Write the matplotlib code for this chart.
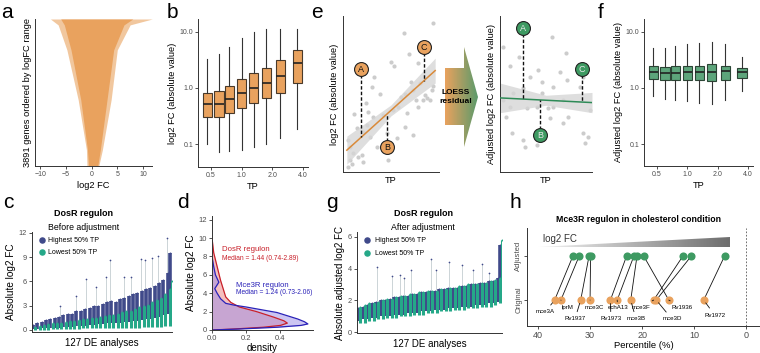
import numpy as np
import matplotlib
matplotlib.use("Agg")
import matplotlib.pyplot as plt
from matplotlib.colors import LinearSegmentedColormap
from matplotlib.patches import Polygon
from matplotlib.ticker import NullLocator

plt.rcParams['font.family'] = ['Liberation Sans', 'DejaVu Sans']
plt.rcParams['mathtext.fontset'] = 'custom'
plt.rcParams['mathtext.it'] = 'Liberation Sans:italic'
plt.rcParams['mathtext.rm'] = 'Liberation Sans'

ORANGE = '#E9A25E'
GREEN = '#3E9A62'
BOXGREEN = '#5DA57B'
NAVY = '#404A8A'
TEAL = '#25A888'
TICK = '#4D4D4D'

# ---- a: envelope of per-gene log2 FC, rank fraction counted from bottom
a_n_genes = 3891
a_rank_frac = [0.0, 0.11, 0.45, 0.79, 0.96, 1.0]
a_core_lo = [-0.6, -0.8, -2.1, -4.0, -5.3, -6.0]
a_core_hi = [1.2, 1.7, 3.0, 4.3, 6.3, 8.0]
a_edge_lo = [-0.9, -1.0, -2.6, -4.8, -6.5, -8.0]
a_edge_hi = [1.4, 2.1, 3.8, 5.0, 7.5, 11.8]

# ---- b / f: boxplots by TP bin
tp_bins = [0.46, 0.6, 0.76, 1.0, 1.31, 1.75, 2.39, 3.5]
b_low = [0.10, 0.072, 0.075, 0.08, 0.088, 0.10, 0.13, 0.185]
b_q1 = [0.30, 0.30, 0.36, 0.44, 0.54, 0.66, 0.81, 1.23]
b_med = [0.52, 0.52, 0.64, 0.81, 1.0, 1.23, 1.65, 2.8]
b_q3 = [0.81, 0.88, 1.09, 1.45, 1.85, 2.3, 3.2, 4.8]
b_high = [3.3, 4.0, 5.4, 7.8, 10.0, 11.3, 11.3, 11.3]

f_low = [0.72, 0.64, 0.61, 0.59, 0.54, 0.52, 0.61, 0.88]
f_q1 = [1.45, 1.39, 1.39, 1.39, 1.39, 1.33, 1.39, 1.5]
f_med = [1.93, 1.85, 1.85, 1.93, 1.93, 1.93, 2.0, 1.93]
f_q3 = [2.47, 2.37, 2.47, 2.47, 2.5, 2.68, 2.47, 2.27]
f_high = [5.2, 5.2, 5.6, 6.1, 6.4, 6.6, 6.1, 3.6]

# ---- e: schematic scatter before / after LOESS adjustment
e_x = [9.41, 6.35, 5.0, 5.35, 6.875, 7.85, 3.23, 2.99, 3.85, 7.05, 8.02, 6.04, 6.46,
       7.33, 7.57, 8.54, 8.72, 9.06, 9.23, 9.41, 1.15, 2.40, 2.64, 3.16, 4.20, 5.24,
       5.76, 6.63, 7.33, 5.59, 2.47, 2.12, 1.42, 0.56, 0.73, 1.08, 1.6, 1.94, 0.73,
       0.56, 0.90, 2.12, 4.72, 3.51, 2.81, 8.37, 7.85, 6.46, 4.55]
e_y = [9.57, 8.93, 7.07, 6.82, 7.56, 6.97, 6.07, 5.43, 5.0, 5.79, 5.68, 4.83, 4.98,
       5.26, 4.62, 4.94, 4.72, 4.62, 5.26, 5.51, 3.70, 4.40, 3.87, 3.55, 3.65, 3.97,
       4.19, 3.76, 2.37, 2.16, 3.01, 2.58, 2.80, 2.05, 1.62, 1.2, 0.98, 1.09, 0.77,
       0.34, 0.51, 0.66, 0.77, 1.62, 2.26, 4.62, 4.19, 2.90, 2.48]
e_fit_x = [0.4, 5.0, 9.6]
e_fit_y = [1.4, 3.95, 6.5]
e_fit_se = [0.9, 0.35, 0.8]
e_mark = ['A', 'B', 'C']
e_mark_x = [1.9, 4.6, 8.4]
e_mark_y = [6.6, 1.6, 8.0]

ea_x = [5.62, 7.17, 0.36, 1.09, 2.07, 4.17, 3.26, 4.53, 5.80, 2.54, 1.45, 0.65, 1.09,
        2.9, 3.99, 5.25, 5.8, 5.43, 6.88, 7.43, 8.7, 9.06, 6.88, 9.78, 9.6, 9.06, 2.54,
        2.72, 1.27, 3.99, 9.24, 7.25, 0.36, 6.52, 4.53]
ea_y = [8.63, 7.65, 8.03, 6.79, 7.39, 6.54, 6.11, 5.79, 5.47, 5.37, 5.04, 3.55, 4.19,
        4.08, 4.19, 4.08, 4.19, 3.44, 3.12, 3.55, 5.47, 6.11, 4.62, 3.97, 2.26, 2.48,
        2.05, 1.62, 2.48, 1.73, 1.84, 5.9, 4.62, 6.43, 5.04]
ea_fit_x = [0.0, 5.0, 10.0]
ea_fit_y = [4.75, 4.6, 4.45]
ea_fit_se = [0.95, 0.32, 0.65]
ea_mark_x = [2.5, 4.35, 8.91]
ea_mark_y = [9.23, 2.37, 6.6]

# ---- c / g: DosR regulon log2 FC across 127 DE analyses (sampled every 4th)
cg_pos = [1, 5, 9, 13, 17, 21, 25, 29, 33, 37, 41, 45, 49, 53, 57, 61, 65, 69, 73, 77,
          81, 85, 89, 93, 97, 101, 105, 109, 113, 117, 121, 125, 127]
c_hi_top = [0.6, 0.8, 1.0, 1.2, 1.3, 1.5, 1.6, 1.8, 2.0, 2.0, 2.3, 2.4, 2.6, 2.7, 2.9, 3.0,
            3.2, 3.4, 3.6, 3.5, 3.8, 4.0, 4.2, 4.4, 4.6, 4.8, 5.0, 5.2, 5.4, 5.8, 6.2, 7.0, 9.5]
c_hi_bot = [0.1, 0.15, 0.2, 0.2, 0.25, 0.3, 0.3, 0.35, 0.4, 0.4, 0.5, 0.5, 0.55, 0.6, 0.6, 0.7,
            0.7, 0.8, 0.8, 0.9, 0.9, 1.0, 1.0, 1.1, 1.1, 1.2, 1.3, 1.4, 1.5, 1.6, 1.8, 2.0, 2.5]
c_lo_top = [0.4, 0.5, 0.6, 0.7, 0.8, 0.8, 0.9, 1.0, 1.1, 1.1, 1.2, 1.3, 1.4, 1.5, 1.5, 1.6,
            1.7, 1.8, 1.9, 2.0, 2.2, 2.3, 2.4, 2.6, 2.8, 3.0, 3.1, 3.4, 3.7, 4.0, 4.5, 5.0, 6.0]
c_lo_bot = [0.0, 0.0, 0.05, 0.05, 0.1, 0.1, 0.1, 0.1, 0.15, 0.15, 0.15, 0.2, 0.2, 0.2, 0.2, 0.2,
            0.25, 0.25, 0.25, 0.3, 0.3, 0.3, 0.3, 0.3, 0.3, 0.35, 0.35, 0.4, 0.4, 0.4, 0.5, 0.5, 0.8]
c_spike_pos = [26, 41, 50, 59, 68, 72, 85, 91, 100, 104, 111, 116, 124]
c_spike_val = [2.9, 4.2, 6.3, 5.3, 6.6, 8.7, 6.6, 6.6, 8.8, 8.6, 8.9, 9.1, 11.4]

g_hi_top = [1.5, 1.6, 1.7, 1.8, 1.9, 2.0, 2.0, 2.1, 2.2, 2.2, 2.3, 2.3, 2.4, 2.4, 2.5, 2.5,
            2.6, 2.6, 2.7, 2.7, 2.8, 2.8, 2.8, 2.9, 2.9, 3.0, 3.0, 3.1, 3.1, 3.2, 3.2, 3.4, 5.5]
g_hi_bot = [0.7, 0.8, 0.8, 0.9, 0.9, 1.0, 1.0, 1.0, 1.1, 1.1, 1.1, 1.2, 1.2, 1.2, 1.3, 1.3,
            1.3, 1.4, 1.4, 1.4, 1.5, 1.5, 1.5, 1.6, 1.6, 1.6, 1.7, 1.7, 1.7, 1.8, 1.8, 1.9, 2.5]
g_lo_top = [1.6, 1.7, 1.8, 1.8, 1.9, 2.0, 2.1, 2.1, 2.2, 2.3, 2.3, 2.4, 2.4, 2.5, 2.5, 2.6,
            2.6, 2.6, 2.7, 2.7, 2.8, 2.8, 2.9, 2.9, 3.0, 3.0, 3.0, 3.1, 3.1, 3.2, 3.3, 3.4, 5.8]
g_lo_bot = [0.6, 0.6, 0.7, 0.7, 0.8, 0.8, 0.9, 0.9, 0.9, 1.0, 1.0, 1.0, 1.1, 1.1, 1.1, 1.2,
            1.2, 1.2, 1.3, 1.3, 1.3, 1.4, 1.4, 1.4, 1.5, 1.5, 1.5, 1.6, 1.6, 1.6, 1.7, 1.8, 2.4]
g_spike_pos = [18, 31, 38, 42, 48, 66, 70, 82, 93, 103, 111, 117]
g_spike_val = [4.1, 3.5, 3.6, 3.4, 3.9, 4.6, 3.9, 4.4, 4.2, 3.9, 4.3, 3.7]

# ---- d: density of absolute log2 FC
dosr_y = [0, 0.1, 0.3, 0.5, 0.75, 1.0, 1.4, 2.0, 2.5, 3.0, 3.6, 4.5, 5.4, 6.9, 8.4, 10.0]
dosr_d = [0, 0.12, 0.3, 0.4, 0.44, 0.42, 0.36, 0.26, 0.16, 0.11, 0.08, 0.065, 0.05, 0.03, 0.01, 0.0]
mce_y = [0, 0.1, 0.3, 0.5, 0.66, 0.9, 1.2, 1.9, 2.5, 2.7, 2.9, 3.4, 4.0, 4.5, 5.2, 6.0, 6.9, 8.0]
mce_d = [0, 0.15, 0.38, 0.52, 0.56, 0.54, 0.5, 0.38, 0.2, 0.13, 0.08, 0.05, 0.03, 0.016, 0.04,
         0.02, 0.01, 0.0]

# ---- h: Mce3R regulon percentiles
h_genes = ['mce3A', 'lprM', 'Rv1937', 'mce3C', 'Rv1973', 'echA13', 'mce3B', 'mce3F',
           'mce3D', 'Rv1936', 'Rv1972']
h_orig = [36.8, 35.6, 31.8, 30.0, 26.1, 24.8, 22.2, 17.8, 17.3, 14.9, 8.2]
h_adj = [33.3, 32.1, 30.2, 29.9, 23.0, 21.6, 21.0, 12.2, 10.6, 19.7, 4.2]
h_lab_x = [38.6, 34.4, 32.9, 29.1, 26.0, 24.7, 21.2, 20.3, 14.3, 12.4, 6.1]
h_lab_y = [-0.27, -0.16, -0.43, -0.16, -0.43, -0.16, -0.43, -0.16, -0.43, -0.16, -0.34]

W, H = 760, 353
fig = plt.figure(figsize=(7.6, 3.53), dpi=100)


def px_axes(l, t, r, b):
    return fig.add_axes([l / W, 1 - b / H, (r - l) / W, (b - t) / H])


def classic(ax, fs=5):
    for s in ['top', 'right']:
        ax.spines[s].set_visible(False)
    for s in ['left', 'bottom']:
        ax.spines[s].set_linewidth(0.7)
        ax.spines[s].set_color('#333333')
    ax.tick_params(labelsize=fs, length=2, width=0.6, color='#333333',
                   labelcolor=TICK, pad=1.5)


# overlay for letters and the arrow
ov = fig.add_axes([0, 0, 1, 1], zorder=-1)
ov.set_xlim(0, W)
ov.set_ylim(H, 0)
ov.axis('off')
for lab, x, y in [('a', 7, 12), ('b', 172, 12), ('e', 317, 12), ('f', 601, 12),
                  ('c', 8, 202), ('d', 183, 202), ('g', 332, 202), ('h', 515, 203)]:
    ov.text(x, y, lab, fontsize=15, ha='center', va='center')

# ---------------- a
ax = px_axes(35, 19, 152, 166)
classic(ax, 5)
ya = np.array(a_rank_frac) * a_n_genes
ax.fill_betweenx(ya, a_edge_lo, a_edge_hi, color=ORANGE, alpha=0.6, lw=0)
ax.fill_betweenx(ya, a_core_lo, a_core_hi, color=ORANGE, lw=0)
ax.set_xlim(-11, 11.75)
ax.set_ylim(0, a_n_genes)
ax.set_yticks([])
ax.set_xticks([-10, -5, 0, 5, 10])
ax.set_xlabel('log2 FC', fontsize=6.7, labelpad=2)
ax.set_ylabel('3891 genes ordered by logFC range', fontsize=6.7, labelpad=2)


def boxes(ax, low, q1, med, q3, high, face, edge):
    stats = [dict(whislo=a, q1=b, med=c, q3=d, whishi=e, fliers=[])
             for a, b, c, d, e in zip(low, q1, med, q3, high)]
    ax.bxp(stats, positions=np.log2(tp_bins), widths=0.3, patch_artist=True,
           showcaps=False, manage_ticks=False,
           boxprops=dict(facecolor=face, edgecolor=edge, lw=0.8),
           medianprops=dict(color='#222222', lw=1.2),
           whiskerprops=dict(color='#333333', lw=0.8))
    ax.set_yscale('log')
    ax.yaxis.set_minor_locator(NullLocator())
    ax.set_yticks([0.1, 1.0, 10.0])
    ax.set_yticklabels(['0.1', '1.0', '10.0'])
    ax.set_xticks(np.log2([0.5, 1, 2, 4]))
    ax.set_xticklabels(['0.5', '1.0', '2.0', '4.0'])
    ax.set_xlabel('TP', fontsize=6.7, labelpad=2)


# ---------------- b
ax = px_axes(198, 19, 308, 167)
classic(ax, 5)
boxes(ax, b_low, b_q1, b_med, b_q3, b_high, ORANGE, '#4a3a2a')
ax.set_xlim(-1.42, 2.16)
ax.set_ylim(0.039, 17)
ax.set_ylabel('log2 FC (absolute value)', fontsize=6.7, labelpad=2)

# ---------------- f
ax = px_axes(644, 19, 753, 166)
classic(ax, 5)
boxes(ax, f_low, f_q1, f_med, f_q3, f_high, BOXGREEN, '#2b4535')
ax.set_xlim(-1.43, 2.17)
ax.set_ylim(0.0405, 17)
ax.set_ylabel('Adjusted log2 FC (absolute value)', fontsize=6.7, labelpad=2)


# ---------------- e
def schematic(ax, px, py, fx, fy, se, line_col, mx, my, mcol):
    classic(ax, 5)
    ax.set_xticks([])
    ax.set_yticks([])
    ax.scatter(px, py, s=9, color='#CCCCCC', lw=0, zorder=1)
    fy = np.array(fy)
    se = np.array(se)
    ax.fill_between(fx, fy - se, fy + se, color='#D6D6D6', alpha=0.8, lw=0, zorder=2)
    ax.plot(fx, fy, color=line_col, lw=1.1, zorder=3)
    for lab, x, y in zip(e_mark, mx, my):
        yl = np.interp(x, fx, fy)
        ax.plot([x, x], [y, yl], color='#111111', lw=1.0, ls=(0, (2.5, 1.5)), zorder=4)
        ax.scatter([x], [y], s=100, color=mcol, edgecolor='#222222', lw=0.8, zorder=5)
        ax.text(x, y, lab, fontsize=6.5, ha='center', va='center', zorder=6,
                color='#111111' if mcol == ORANGE else '#e8e8e8')
    ax.set_xlim(0, 10)
    ax.set_ylim(0, 10)
    ax.set_xlabel('TP', fontsize=6.7, labelpad=3)


ax = px_axes(343, 16, 439, 172)
schematic(ax, e_x, e_y, e_fit_x, e_fit_y, e_fit_se, '#D98A3A', e_mark_x, e_mark_y, ORANGE)
ax.set_ylabel('log2 FC (absolute value)', fontsize=6.7, labelpad=3)

ax = px_axes(500, 16, 592, 172)
schematic(ax, ea_x, ea_y, ea_fit_x, ea_fit_y, ea_fit_se, '#2E8B57', ea_mark_x, ea_mark_y, GREEN)
ax.set_ylabel('Adjusted log2 FC (absolute value)', fontsize=6.7, labelpad=3)

# gradient arrow
arrow = Polygon([(445, 68), (464, 68), (464, 47), (478, 97), (464, 147), (464, 125),
                 (445, 125)], closed=True, transform=ov.transData, facecolor='none', lw=0)
ov.add_patch(arrow)
grad_cmap = LinearSegmentedColormap.from_list('og', [ORANGE, '#5C9A6B'])
im = ov.imshow(np.linspace(0, 1, 64).reshape(1, -1), cmap=grad_cmap, aspect='auto',
               extent=(445, 478, 147, 47), zorder=1)
im.set_clip_path(arrow)
ov.set_xlim(0, W)
ov.set_ylim(H, 0)
ov.text(456, 97, 'LOESS\nresidual', fontsize=6, fontweight='bold', ha='center',
        va='center', linespacing=1.3, zorder=3)


# ---------------- c / g
def comb(ax, hi_top, hi_bot, lo_top, lo_bot, sp_pos, sp_val):
    pos = np.array(cg_pos)
    base = np.interp(sp_pos, pos, hi_top)
    ax.vlines(sp_pos, base, sp_val, color='#B8C4C8', lw=0.5, zorder=1)
    ax.scatter(sp_pos, sp_val, s=1.5, color=NAVY, lw=0, zorder=2)
    ax.vlines(pos, hi_bot, hi_top, color=NAVY, lw=2.6, zorder=2)
    ax.scatter(pos, hi_top, s=2, color=NAVY, lw=0, zorder=2)
    ax.vlines(pos + 2, lo_bot, lo_top, color=TEAL, lw=2.2, zorder=3)
    ax.scatter(pos + 2, lo_top, s=2, color=TEAL, lw=0, zorder=3)
    ax.set_xlim(0, 129)
    ax.set_xticks([])
    ax.set_xlabel('127 DE analyses', fontsize=7, labelpad=4)


def legend_dots(ax, dx, tx, ys):
    for col, y, txt in zip([NAVY, TEAL], ys, ['Highest 50% TP', 'Lowest 50% TP']):
        ax.scatter([dx], [y], s=22, color=col, lw=0, transform=ax.transAxes, clip_on=False)
        ax.text(tx, y, txt, fontsize=5, va='center', transform=ax.transAxes)


ax = px_axes(32, 232, 172, 332)
classic(ax, 5.3)
comb(ax, c_hi_top, c_hi_bot, c_lo_top, c_lo_bot, c_spike_pos, c_spike_val)
ax.set_ylim(-0.25, 12.1)
ax.set_yticks([0, 3, 6, 9, 12])
ax.set_ylabel('Absolute log2 FC', fontsize=7.2, labelpad=2)
legend_dots(ax, 0.07, 0.115, [0.92, 0.80])
ov.text(84, 213, 'DosR regulon', fontsize=6.5, fontweight='bold', ha='center', va='center')
ov.text(84, 227, 'Before adjustment', fontsize=6.3, ha='center', va='center')

ax = px_axes(357, 232, 502, 333)
classic(ax, 5.3)
comb(ax, g_hi_top, g_hi_bot, g_lo_top, g_lo_bot, g_spike_pos, g_spike_val)
ax.set_ylim(-0.06, 6.3)
ax.set_yticks([0, 2, 4, 6])
ax.set_ylabel('Absolute adjusted log2 FC', fontsize=7, labelpad=2)
legend_dots(ax, 0.069, 0.124, [0.92, 0.79])
ov.text(423, 213, 'DosR regulon', fontsize=6.5, fontweight='bold', ha='center', va='center')
ov.text(423, 227, 'After adjustment', fontsize=6.3, ha='center', va='center')

# ---------------- d
ax = px_axes(212, 216, 313, 330)
classic(ax, 5.5)
ax.fill_betweenx(dosr_y, 0, dosr_d, color='#EE8C8C', alpha=0.55, lw=0)
ax.fill_betweenx(mce_y, 0, mce_d, color='#9A8DE6', alpha=0.5, lw=0)
ax.plot(dosr_d, dosr_y, color='#C8202A', lw=0.9)
ax.plot(mce_d, mce_y, color='#2A22B8', lw=0.9)
ax.set_xlim(0, 0.59)
ax.set_ylim(0, 12.4)
ax.set_yticks([0, 2, 4, 6, 8, 10, 12])
ax.set_xticks([0.0, 0.2, 0.4])
ax.set_xticklabels(['0.0', '0.2', '0.4'])
ax.set_xlabel('density', fontsize=7, labelpad=0.5)
ax.set_ylabel('Absolute log2 FC', fontsize=7.2, labelpad=2)
ax.text(0.058, 8.76, 'DosR regulon', color='#C8202A', fontsize=5.6, va='center')
ax.text(0.058, 7.8, 'Median = 1.44 (0.74-2.89)', color='#C8202A', fontsize=4.8, va='center')
ax.text(0.139, 4.87, 'Mce3R regulon', color='#2A22B8', fontsize=5.6, va='center')
ax.text(0.139, 4.07, 'Median = 1.24 (0.73-2.06)', color='#2A22B8', fontsize=4.8, va='center')

# ---------------- h
ax = px_axes(527, 228, 760, 326)
classic(ax, 6.5)
for o, a in zip(h_orig, h_adj):
    ax.plot([o, a], [0, 1], color='#111111', lw=0.6, zorder=1)
ax.scatter(h_orig, np.zeros(len(h_orig)), s=34, color=ORANGE, lw=0, zorder=2)
ax.scatter(h_adj, np.ones(len(h_adj)), s=34, color=GREEN, lw=0, zorder=2)
for g, o, lx, ly in zip(h_genes, h_orig, h_lab_x, h_lab_y):
    ax.annotate(g, xy=(o, 0), xytext=(lx, ly), fontsize=4.4, ha='center', va='center',
                arrowprops=dict(arrowstyle='-', lw=0.6, color='#111111',
                                shrinkA=1.5, shrinkB=2.5))
ax.axvline(0, color='#555555', lw=0.6, ls=(0, (2, 2)))
wedge = Polygon([(40.0, 1.2), (3.25, 1.2), (3.25, 1.43)], closed=True, facecolor='none', lw=0)
ax.add_patch(wedge)
wcmap = LinearSegmentedColormap.from_list('gw', ['#f4f4f4', '#6e6e6e'])
wim = ax.imshow(np.linspace(0, 1, 64).reshape(1, -1), cmap=wcmap, aspect='auto',
                extent=(40.0, 3.25, 1.2, 1.43), zorder=1)
wim.set_clip_path(wedge)
ax.text(39.0, 1.39, 'log2 FC', fontsize=7, color='#333333', va='center')
ax.set_xlim(42.1, -2.6)
ax.set_ylim(-0.59, 1.64)
ax.set_xticks([40, 30, 20, 10, 0])
ax.set_yticks([0, 1])
ax.set_yticklabels(['Original', 'Adjusted'], rotation=90, va='center', fontsize=5.5)
ax.set_xlabel('Percentile (%)', fontsize=6.8, labelpad=1)
ov.text(639, 219, 'Mce3R regulon in cholesterol condition', fontsize=6.3,
        fontweight='bold', ha='center', va='center')
ov.text(754, 272, '$p$ = 0.032', fontsize=5, rotation=-90, ha='center', va='center')

fig.savefig('out.png', dpi=100)
